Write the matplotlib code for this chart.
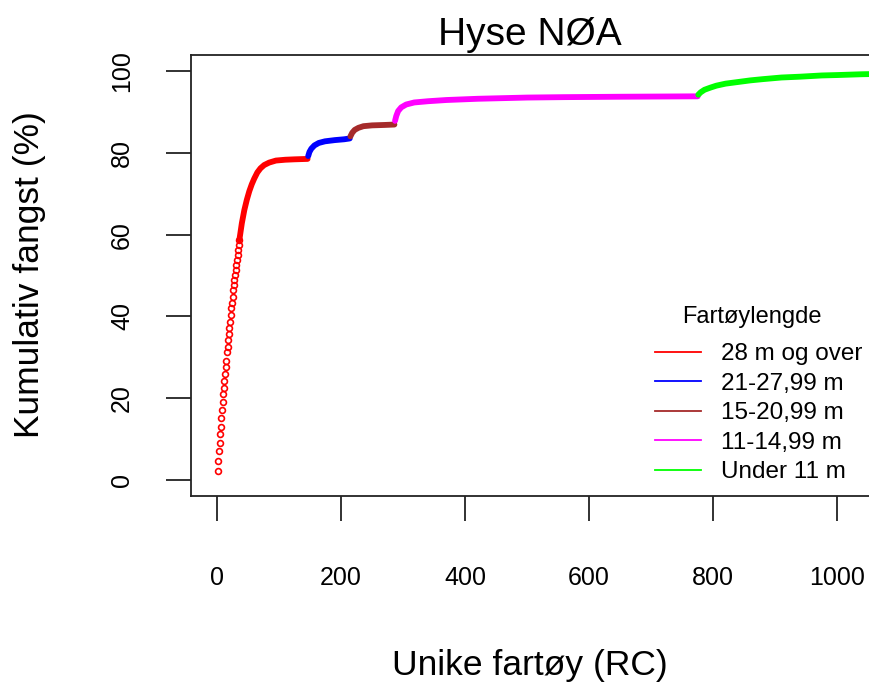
import matplotlib
matplotlib.use("Agg")
import matplotlib.pyplot as plt

plt.rcParams['font.family'] = ['Liberation Sans', 'DejaVu Sans']

# kumulativ fangst per fartøy, første fartøy i 28 m-gruppen (enkeltpunkter)
red_head = [2.3, 4.7, 7.2, 9.1, 11.2, 13.0, 15.1, 17.0, 19.0, 21.0, 22.4, 24.3,
            25.8, 27.7, 29.1, 31.2, 32.6, 34.2, 35.7, 37.1, 38.7, 40.3, 42.0,
            43.2, 44.8, 46.5, 47.7, 48.9, 50.1, 51.3, 52.6, 53.8, 55.0, 56.2,
            57.5, 58.7]

# resten av kurvene (fartøynr, kumulativ %)
red_x = [36, 40, 44, 48, 52, 56, 60, 65, 70, 76, 84, 95, 110, 125, 146]
red_y = [58.7, 62.8, 66.0, 68.5, 70.6, 72.3, 73.7, 75.2, 76.2, 77.0, 77.6,
         78.1, 78.3, 78.4, 78.5]
blue_x = [147, 149, 152, 157, 164, 174, 190, 205, 214]
blue_y = [79.2, 80.2, 81.0, 81.8, 82.4, 82.8, 83.1, 83.3, 83.5]
brown_x = [215, 218, 222, 228, 236, 250, 270, 286]
brown_y = [84.0, 84.9, 85.6, 86.1, 86.5, 86.7, 86.8, 86.9]
mag_x = [287, 289, 292, 297, 305, 318, 340, 370, 420, 500, 560, 650, 775]
mag_y = [87.8, 89.0, 90.2, 91.1, 91.8, 92.3, 92.6, 92.9, 93.2, 93.5, 93.6,
         93.7, 93.8]
green_x = [776, 780, 786, 795, 805, 820, 840, 860, 880, 910, 940, 975, 1000,
           1040, 1076]
green_y = [94.2, 94.8, 95.4, 95.9, 96.4, 96.9, 97.3, 97.7, 98.0, 98.4, 98.6,
           98.9, 99.0, 99.2, 99.3]

labels = ['28 m og over', '21-27,99 m', '15-20,99 m', '11-14,99 m', 'Under 11 m']
colors = ['#ff0000', '#0000ff', '#a52a2a', '#ff00ff', '#00ff00']

fig = plt.figure(figsize=(8.7, 6.86), dpi=100)
ax = fig.add_axes([191 / 870, 1 - 496.4 / 686, 720 / 870, 441.8 / 686])

ax.plot(range(1, len(red_head) + 1), red_head, linestyle='none', marker='o',
        markersize=4.2, markerfacecolor='none', markeredgecolor=colors[0],
        markeredgewidth=1.2)
series = [(red_x, red_y), (blue_x, blue_y), (brown_x, brown_y),
          (mag_x, mag_y), (green_x, green_y)]
for (xs, ys), c in zip(series, colors):
    ax.plot(xs, ys, color=c, lw=4.2, solid_capstyle='round')

ax.set_xlim(-42, 1119)
ax.set_ylim(-4, 104)
ax.set_xticks([0, 200, 400, 600, 800, 1000])
ax.set_yticks([0, 20, 40, 60, 80, 100])
ax.tick_params(axis='both', direction='out', length=18, width=1.3,
               labelsize=18, color='#222222')
ax.tick_params(axis='x', pad=32)
ax.tick_params(axis='y', pad=23)
for lab in ax.get_yticklabels():
    lab.set_rotation(90)
    lab.set_va('center')
for s in ax.spines.values():
    s.set_linewidth(1.3)
    s.set_color('#222222')

fig.text(530 / 870, 1 - 35 / 686, 'Hyse NØA', ha='center', va='center',
         fontsize=28)
fig.text(530 / 870, 1 - 665 / 686, 'Unike fartøy (RC)', ha='center',
         va='center', fontsize=25.5)
fig.text(30 / 870, 1 - 275 / 686, 'Kumulativ fangst (%)', ha='center',
         va='center', rotation=90, fontsize=25.5)

handles = [plt.Line2D([], [], color=c, lw=1.3) for c in colors]
ax.legend(handles, labels, loc='upper left',
          bbox_to_anchor=(655 / 870, 1 - 343 / 686),
          bbox_transform=fig.transFigure, frameon=False, fontsize=17.5,
          borderpad=0, borderaxespad=0, handlelength=1.9,
          handletextpad=0.8, labelspacing=0.31)
fig.text(752 / 870, 1 - 317 / 686, 'Fartøylengde', ha='center', va='center',
         fontsize=17)

fig.savefig('out.png', dpi=100)
